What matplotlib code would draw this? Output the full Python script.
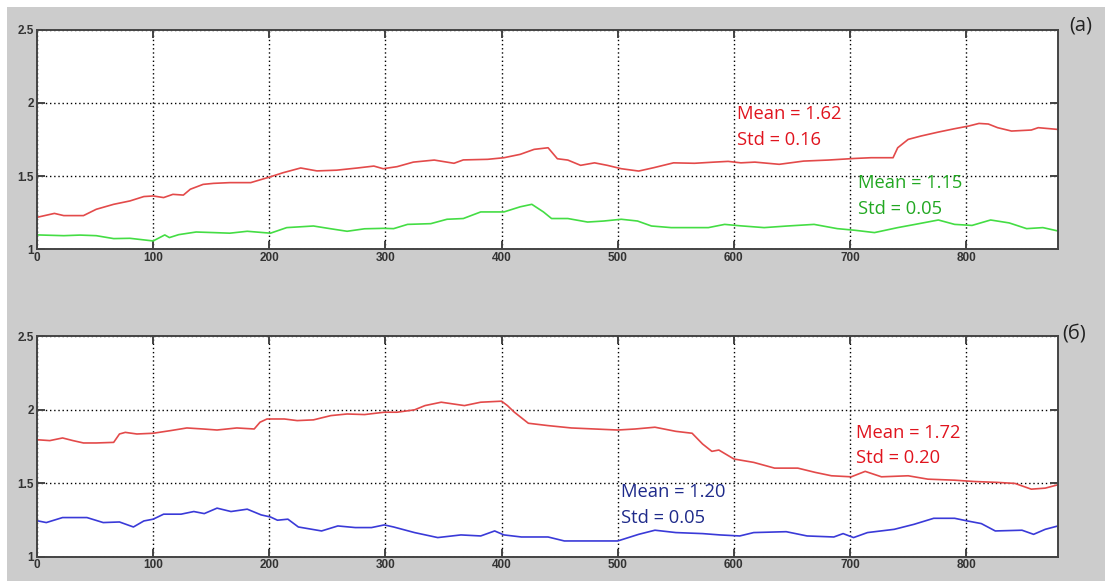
import matplotlib

matplotlib.use("Agg")
import matplotlib.pyplot as plt
from matplotlib.patches import Rectangle

# panel (a): two series
a_red_x = [1, 15, 23, 40, 51, 66, 80, 92, 100, 109, 117, 126, 132, 143, 152, 166, 184, 201, 212, 227,
           241, 258, 276, 290, 298, 310, 324, 342, 359, 367, 388, 402, 416, 428, 440, 448, 457, 468, 480,
           491, 503, 518, 531, 548, 566, 583, 595, 606, 618, 639, 660, 681, 704, 718, 737, 741, 750, 761,
           776, 790, 802, 811, 819, 827, 839, 856, 862, 879]
a_red_y = [1.22, 1.245, 1.23, 1.23, 1.273, 1.307, 1.33, 1.36, 1.364, 1.353, 1.375, 1.37, 1.41, 1.443, 1.45,
           1.455, 1.455, 1.495, 1.523, 1.555, 1.535, 1.54, 1.555, 1.568, 1.55, 1.564, 1.595, 1.609, 1.587,
           1.61, 1.614, 1.625, 1.648, 1.682, 1.693, 1.618, 1.609, 1.573, 1.59, 1.573, 1.55, 1.534, 1.557,
           1.59, 1.587, 1.595, 1.60, 1.59, 1.595, 1.58, 1.602, 1.609, 1.62, 1.625, 1.625, 1.693, 1.75, 1.773,
           1.80, 1.823, 1.841, 1.859, 1.855, 1.83, 1.807, 1.814, 1.83, 1.818]

a_green_x = [1, 23, 37, 51, 66, 80, 100, 110, 114, 122, 137, 152, 166, 181, 201, 215, 238, 253, 267, 282,
             298, 307, 319, 339, 353, 367, 382, 402, 416, 426, 436, 443, 457, 474, 488, 503, 517, 529, 546,
             560, 578, 592, 606, 626, 646, 669, 689, 704, 721, 741, 756, 776, 790, 805, 821, 837, 852, 866, 879]
a_green_y = [1.098, 1.093, 1.097, 1.093, 1.073, 1.075, 1.057, 1.098, 1.08, 1.10, 1.118, 1.114, 1.11, 1.123,
             1.11, 1.148, 1.159, 1.14, 1.123, 1.14, 1.143, 1.141, 1.17, 1.175, 1.205, 1.21, 1.255, 1.255,
             1.29, 1.307, 1.255, 1.21, 1.21, 1.186, 1.193, 1.205, 1.193, 1.159, 1.148, 1.148, 1.148, 1.17,
             1.16, 1.148, 1.159, 1.17, 1.141, 1.13, 1.114, 1.148, 1.17, 1.20, 1.17, 1.163, 1.20, 1.18,
             1.141, 1.148, 1.125]

# panel (б)
b_red_x = [0, 11, 22, 31, 40, 51, 66, 71, 76, 86, 100, 115, 129, 143, 155, 172, 187, 192, 198, 213, 224,
           238, 253, 267, 282, 299, 310, 325, 334, 348, 368, 382, 400, 405, 411, 423, 440, 460, 480, 500,
           515, 532, 550, 564, 573, 581, 587, 600, 617, 635, 655, 670, 684, 701, 713, 727, 750, 767, 790,
           807, 827, 842, 856, 868, 879]
b_red_y = [1.795, 1.789, 1.807, 1.789, 1.773, 1.773, 1.777, 1.834, 1.845, 1.834, 1.839, 1.857, 1.875, 1.868,
           1.861, 1.875, 1.868, 1.914, 1.936, 1.936, 1.925, 1.93, 1.959, 1.97, 1.966, 1.982, 1.982, 1.998,
           2.027, 2.05, 2.027, 2.05, 2.057, 2.027, 1.982, 1.907, 1.891, 1.875, 1.868, 1.861, 1.868, 1.88,
           1.852, 1.839, 1.766, 1.716, 1.725, 1.664, 1.641, 1.602, 1.602, 1.573, 1.55, 1.543, 1.58, 1.543,
           1.55, 1.527, 1.52, 1.511, 1.505, 1.498, 1.459, 1.466, 1.489]

b_blue_x = [1, 8, 22, 31, 43, 57, 71, 83, 92, 100, 109, 124, 135, 144, 155, 167, 181, 193, 201, 207, 216,
            225, 245, 259, 274, 288, 299, 307, 325, 345, 365, 382, 394, 402, 417, 440, 454, 474, 500, 518,
            532, 550, 573, 588, 605, 617, 645, 663, 686, 694, 703, 715, 738, 755, 772, 790, 801, 813, 825,
            848, 858, 868, 879]
b_blue_y = [1.243, 1.232, 1.266, 1.266, 1.266, 1.232, 1.236, 1.202, 1.243, 1.255, 1.289, 1.289, 1.307, 1.293,
            1.33, 1.307, 1.323, 1.284, 1.27, 1.248, 1.255, 1.202, 1.175, 1.209, 1.198, 1.198, 1.216, 1.202,
            1.164, 1.13, 1.148, 1.141, 1.175, 1.148, 1.134, 1.134, 1.107, 1.107, 1.107, 1.152, 1.18, 1.164,
            1.157, 1.148, 1.141, 1.164, 1.17, 1.141, 1.134, 1.157, 1.13, 1.164, 1.186, 1.22, 1.261, 1.261,
            1.243, 1.225, 1.175, 1.18, 1.152, 1.186, 1.209]

x_ticks = [0, 100, 200, 300, 400, 500, 600, 700, 800]
y_ticks = [1, 1.5, 2, 2.5]
y_ticklabels = ["1", "1.5", "2", "2.5"]

BG = "#cccccc"

fig = plt.figure(figsize=(11.05, 5.81), dpi=100, facecolor=BG)
# white margins on top and left like the screenshot
fig.patches.append(Rectangle((0, 1 - 7 / 581), 1, 7 / 581, transform=fig.transFigure,
                             facecolor="white", edgecolor="none", zorder=0))
fig.patches.append(Rectangle((0, 0), 7 / 1105, 1, transform=fig.transFigure,
                             facecolor="white", edgecolor="none", zorder=0))

ax1 = fig.add_axes([37 / 1105, (581 - 249.3) / 581, 1021 / 1105, 219.8 / 581])
ax2 = fig.add_axes([37 / 1105, (581 - 556.7) / 581, 1021 / 1105, 220.7 / 581])


def style(ax):
    ax.set_xlim(0, 879)
    ax.set_ylim(1, 2.5)
    ax.set_xticks(x_ticks)
    ax.set_yticks(y_ticks)
    ax.set_yticklabels(y_ticklabels)
    ax.grid(True, color="black", linestyle=(0, (1, 2)), linewidth=1.0)
    ax.set_axisbelow(True)
    ax.tick_params(direction="in", length=6, width=1.4, color="#444444", top=True, right=True,
                   labelsize=8.5, labelcolor="#333333", pad=2)
    for lab in ax.get_xticklabels() + ax.get_yticklabels():
        lab.set_fontfamily("Liberation Sans")
        lab.set_fontweight("bold")
    for sp in ax.spines.values():
        sp.set_color("#444444")
        sp.set_linewidth(1.4)


style(ax1)
style(ax2)

ax1.plot(a_red_x, a_red_y, color="#e34a4a", linewidth=1.2)
ax1.plot(a_green_x, a_green_y, color="#44dd44", linewidth=1.2)
ax2.plot(b_red_x, b_red_y, color="#e34a4a", linewidth=1.2)
ax2.plot(b_blue_x, b_blue_y, color="#3a3ad8", linewidth=1.2)

tfont = dict(family="Open Sans", fontsize=13.2, va="center", ha="left", linespacing=1.55)
ax1.text(603, 1.835, "Mean = 1.62\nStd = 0.16", color="#e0141e", **tfont)
ax1.text(707, 1.364, "Mean = 1.15\nStd = 0.05", color="#22a822", **tfont)
ax2.text(705, 1.755, "Mean = 1.72\nStd = 0.20", color="#e0141e", **tfont)
ax2.text(503, 1.353, "Mean = 1.20\nStd = 0.05", color="#1e2a8a", **tfont)

fig.text(1069 / 1105, 1 - 25 / 581, "(a)", fontsize=14.5, family="Open Sans", color="#222222",
         ha="left", va="center")
fig.text(1062 / 1105, 1 - 333 / 581, "(б)", fontsize=14.5, family="Open Sans", color="#222222",
         ha="left", va="center")

fig.savefig("out.png", dpi=100, facecolor=BG)
plt.close(fig)
